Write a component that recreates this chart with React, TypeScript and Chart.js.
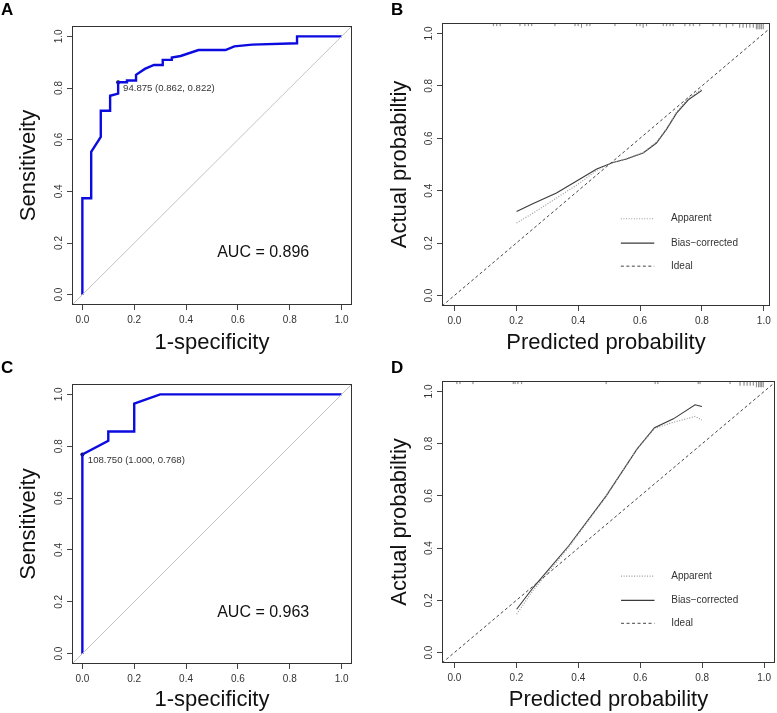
import React, { useEffect, useRef } from "react";
import { Chart, registerables } from "chart.js";

Chart.register(...registerables);

const FONT = "'Liberation Sans', Arial, Helvetica, sans-serif";

// ---------------- data ----------------
const tickValues = [0, 0.2, 0.4, 0.6, 0.8, 1.0];

// Panel A: ROC
const rocAFpr = [0, 0, 0.034, 0.034, 0.071, 0.071, 0.107, 0.107, 0.138, 0.138, 0.172, 0.172, 0.207, 0.207, 0.241, 0.276, 0.31, 0.31, 0.345, 0.345, 0.379, 0.448, 0.552, 0.586, 0.655, 0.828, 0.828, 1.0];
const rocATpr = [0, 0.373, 0.373, 0.553, 0.611, 0.712, 0.712, 0.77, 0.778, 0.822, 0.822, 0.829, 0.829, 0.851, 0.874, 0.889, 0.889, 0.909, 0.909, 0.918, 0.924, 0.947, 0.947, 0.961, 0.968, 0.973, 1.0, 1.0];
const cutA = [0.138, 0.822];
const cutALabel = "94.875 (0.862, 0.822)";
const aucALabel = "AUC = 0.896";

// Panel C: ROC
const rocCFpr = [0, 0, 0.1, 0.1, 0.2, 0.2, 0.3, 1.0];
const rocCTpr = [0, 0.768, 0.821, 0.857, 0.857, 0.964, 1.0, 1.0];
const cutC = [0, 0.768];
const cutCLabel = "108.750 (1.000, 0.768)";
const aucCLabel = "AUC = 0.963";

// Panel B: calibration
const calBX = [0.201, 0.255, 0.33, 0.406, 0.46, 0.513, 0.556, 0.61, 0.653, 0.686, 0.718, 0.756, 0.8];
const calBBias = [0.321, 0.351, 0.391, 0.445, 0.483, 0.508, 0.521, 0.544, 0.582, 0.635, 0.696, 0.747, 0.783];
const calBApparent = [0.277, 0.315, 0.372, 0.43, 0.478, 0.508, 0.522, 0.546, 0.585, 0.638, 0.7, 0.752, 0.788];
const rugB = [0.126, 0.137, 0.148, 0.212, 0.228, 0.239, 0.25, 0.325, 0.39, 0.4, 0.411, 0.428, 0.438, 0.519, 0.589, 0.6, 0.61, 0.621, 0.675, 0.686, 0.697, 0.707, 0.745, 0.761, 0.772, 0.793, 0.836, 0.858, 0.879, 0.9, 0.922, 0.933, 0.944, 0.955, 0.966, 0.976, 0.981, 0.987, 0.992, 0.998];
const rugBCount = [1, 1, 1, 1, 1, 1, 1, 1, 1, 1, 2, 1, 1, 1, 1, 1, 2, 1, 1, 1, 1, 1, 1, 1, 1, 1, 1, 1, 2, 1, 2, 2, 2, 2, 2, 3, 3, 3, 3, 3];

// Panel D: calibration
const calDX = [0.201, 0.255, 0.37, 0.49, 0.59, 0.646, 0.707, 0.777, 0.799];
const calDBias = [0.166, 0.25, 0.41, 0.6, 0.78, 0.861, 0.895, 0.949, 0.942];
const calDApparent = [0.147, 0.24, 0.405, 0.598, 0.78, 0.858, 0.882, 0.904, 0.891];
const rugD = [0.008, 0.018, 0.06, 0.19, 0.196, 0.205, 0.217, 0.49, 0.648, 0.657, 0.787, 0.793, 0.89, 0.922, 0.935, 0.945, 0.955, 0.965, 0.975, 0.982, 0.987, 0.992, 0.997];
const rugDCount = [1, 1, 1, 1, 1, 1, 1, 1, 1, 1, 1, 1, 1, 2, 2, 2, 2, 2, 3, 3, 3, 3, 3];

const legendLabels = ["Apparent", "Bias\u2212corrected", "Ideal"];

// ---------------- styles / layout ----------------
const ROC_BLUE = "#0b0be0";
const rocRange = [-0.04, 1.04];
const calXRangeB = [-0.04, 1.02];
const calXRangeD = [-0.04, 1.035];
const calYRange = [-0.04, 1.04];
const legendLineX = [0.538, 0.646];
const legendRowY = [0.293, 0.2, 0.112];
const legendTextX = 0.7;

const styles = {
  apparent: { borderColor: "#9a9a9a", borderWidth: 1.2, borderDash: [1, 1.6] },
  bias: { borderColor: "#3a3a3a", borderWidth: 1.1 },
  ideal: { borderColor: "#444", borderWidth: 1, borderDash: [3, 2.5] },
};

const overlay = {
  id: "overlay",
  afterDatasetsDraw(chart: any, _args: any, opts: any) {
    const { ctx, chartArea: a, scales } = chart;
    const xs = scales.x;
    const ys = scales.y;
    ctx.save();
    ctx.strokeStyle = "#333";
    ctx.lineWidth = 1;
    const l = Math.round(a.left) + 0.5;
    const t = Math.round(a.top) + 0.5;
    const r = Math.round(a.right) - 0.5;
    const b = Math.round(a.bottom) - 0.5;
    ctx.strokeRect(l, t, r - l, b - t);
    for (const tx of opts.texts || []) {
      ctx.font = `${tx.size}px ${FONT}`;
      ctx.fillStyle = tx.color || "#222";
      ctx.textAlign = "left";
      ctx.textBaseline = "middle";
      ctx.fillText(tx.text, xs.getPixelForValue(tx.x), ys.getPixelForValue(tx.y));
    }
    if (opts.letter) {
      ctx.font = `bold 17px ${FONT}`;
      ctx.fillStyle = "#000";
      ctx.textAlign = "left";
      ctx.textBaseline = "alphabetic";
      ctx.fillText(opts.letter.text, opts.letter.x, opts.letter.y);
    }
    ctx.restore();
  },
};

type Geo = { left: number; top: number; w: number; h: number; l: number; r: number; t: number; b: number; yTitleX: number; xTitleY: number };

const geoA: Geo = { left: 0, top: 0, w: 390, h: 360, l: 72, r: 352, t: 26, b: 305, yTitleX: 29, xTitleY: 343 };
const geoB: Geo = { left: 375, top: 0, w: 402, h: 360, l: 67, r: 395, t: 23, b: 306, yTitleX: 25, xTitleY: 343 };
const geoC: Geo = { left: 0, top: 350, w: 390, h: 363, l: 72, r: 352, t: 34, b: 314, yTitleX: 29, xTitleY: 350 };
const geoD: Geo = { left: 375, top: 350, w: 402, h: 363, l: 67, r: 400, t: 31, b: 313, yTitleX: 25, xTitleY: 350 };

function makeConfig(geo: Geo, xTitle: string, yTitle: string, xRange: number[], yRange: number[], datasets: any[], texts: any[], letter: any) {
  const tickFont = { family: FONT, size: 10 };
  const titleFont = { family: FONT, size: 22, lineHeight: 1 };
  const setTicks = (s: any) => {
    s.ticks = tickValues.map((value) => ({ value }));
  };
  return {
    type: "line",
    data: { datasets },
    options: {
      responsive: false,
      animation: false,
      devicePixelRatio: 1,
      events: [],
      layout: { padding: { left: 0, top: geo.t, right: geo.w - geo.r, bottom: 0 } },
      elements: { point: { radius: 0 }, line: { tension: 0 } },
      plugins: {
        legend: { display: false },
        tooltip: { enabled: false },
        overlay: { texts, letter },
      },
      scales: {
        x: {
          type: "linear",
          position: "bottom",
          min: xRange[0],
          max: xRange[1],
          afterBuildTicks: setTicks,
          afterFit: (s: any) => {
            s.height = geo.h - geo.b;
          },
          ticks: { padding: 4, color: "#333", font: tickFont, maxRotation: 0, autoSkip: false, callback: (v: any) => Number(v).toFixed(1) },
          grid: { display: true, drawOnChartArea: false, drawTicks: true, tickLength: 5, color: "#444" },
          border: { display: false },
          title: { display: true, text: xTitle, color: "#111", font: titleFont, padding: { top: 0, bottom: geo.h - geo.xTitleY - 11 } },
        },
        y: {
          type: "linear",
          position: "left",
          min: yRange[0],
          max: yRange[1],
          afterBuildTicks: setTicks,
          afterFit: (s: any) => {
            s.width = geo.l;
          },
          ticks: { padding: 1, color: "#333", font: tickFont, minRotation: 90, maxRotation: 90, crossAlign: "center", autoSkip: false, callback: (v: any) => Number(v).toFixed(1) },
          grid: { display: true, drawOnChartArea: false, drawTicks: true, tickLength: 5, color: "#444" },
          border: { display: false },
          title: { display: true, text: yTitle, color: "#111", font: titleFont, padding: { top: geo.yTitleX - 11, bottom: 0 } },
        },
      },
    },
    plugins: [overlay],
  };
}

const pts = (xs: number[], ys: number[]) => xs.map((x, i) => ({ x, y: ys[i] }));

function rocDatasets(fpr: number[], tpr: number[], cut: number[]) {
  return [
    { data: pts(rocRange, rocRange), borderColor: "#c4c4c4", borderWidth: 1, pointRadius: 0 },
    { data: pts(fpr, tpr), borderColor: ROC_BLUE, borderWidth: 2.4, pointRadius: 0, borderJoinStyle: "miter" },
    { data: [{ x: cut[0], y: cut[1] }], showLine: false, pointRadius: 2, pointBackgroundColor: "#000", pointBorderColor: "#000", pointBorderWidth: 0 },
  ];
}

function rugData(xs: number[], counts: number[], top: number) {
  const out: any[] = [];
  xs.forEach((x, i) => {
    out.push({ x, y: top }, { x, y: top - 0.006 - 0.006 * counts[i] }, { x, y: null });
  });
  return out;
}

function calDatasets(xRange: number[], xs: number[], bias: number[], apparent: number[], rug: number[], rugCount: number[]) {
  const legendStyles = [styles.apparent, styles.bias, styles.ideal];
  return [
    { data: pts([calYRange[0], 1.04], [calYRange[0], 1.04]), pointRadius: 0, ...styles.ideal },
    { data: pts(xs, apparent), pointRadius: 0, ...styles.apparent },
    { data: pts(xs, bias), pointRadius: 0, ...styles.bias },
    ...legendStyles.map((st, i) => ({
      data: pts(legendLineX, [legendRowY[i], legendRowY[i]]),
      pointRadius: 0,
      ...st,
    })),
    { data: rugData(rug, rugCount, calYRange[1]), borderColor: "rgba(0,0,0,0.2)", borderWidth: 1, pointRadius: 0, spanGaps: false },
  ];
}

const legendTexts = legendLabels.map((text, i) => ({ text, x: legendTextX, y: legendRowY[i], size: 10, color: "#333" }));

const configs = [
  {
    geo: geoA,
    make: () =>
      makeConfig(geoA, "1-specificity", "Sensitiveity", rocRange, rocRange, rocDatasets(rocAFpr, rocATpr, cutA),
        [
          { text: cutALabel, x: 0.157, y: 0.8, size: 9.6, color: "#333" },
          { text: aucALabel, x: 0.52, y: 0.163, size: 16, color: "#111" },
        ],
        { text: "A", x: 1, y: 15 }),
  },
  {
    geo: geoB,
    make: () =>
      makeConfig(geoB, "Predicted probability", "Actual probabiltiy", calXRangeB, calYRange,
        calDatasets(calXRangeB, calBX, calBBias, calBApparent, rugB, rugBCount), legendTexts, { text: "B", x: 16, y: 15 }),
  },
  {
    geo: geoC,
    make: () =>
      makeConfig(geoC, "1-specificity", "Sensitiveity", rocRange, rocRange, rocDatasets(rocCFpr, rocCTpr, cutC),
        [
          { text: cutCLabel, x: 0.021, y: 0.747, size: 9.6, color: "#333" },
          { text: aucCLabel, x: 0.52, y: 0.158, size: 16, color: "#111" },
        ],
        { text: "C", x: 1, y: 23 }),
  },
  {
    geo: geoD,
    make: () =>
      makeConfig(geoD, "Predicted probability", "Actual probabiltiy", calXRangeD, calYRange,
        calDatasets(calXRangeD, calDX, calDBias, calDApparent, rugD, rugDCount), legendTexts, { text: "D", x: 16, y: 23 }),
  },
];

function Panel({ geo, make }: { geo: Geo; make: () => any }) {
  const ref = useRef<HTMLCanvasElement | null>(null);
  useEffect(() => {
    if (!ref.current) return;
    const chart = new Chart(ref.current, make());
    return () => chart.destroy();
  }, []);
  return (
    <canvas
      ref={ref}
      width={geo.w}
      height={geo.h}
      style={{ position: "absolute", left: geo.left, top: geo.top, width: geo.w, height: geo.h, pointerEvents: "none" }}
    />
  );
}

export default function App() {
  return (
    <div style={{ position: "fixed", left: 0, top: 0, width: 777, height: 713, background: "#fff", overflow: "hidden" }}>
      {configs.map((c, i) => (
        <Panel key={i} geo={c.geo} make={c.make} />
      ))}
    </div>
  );
}
